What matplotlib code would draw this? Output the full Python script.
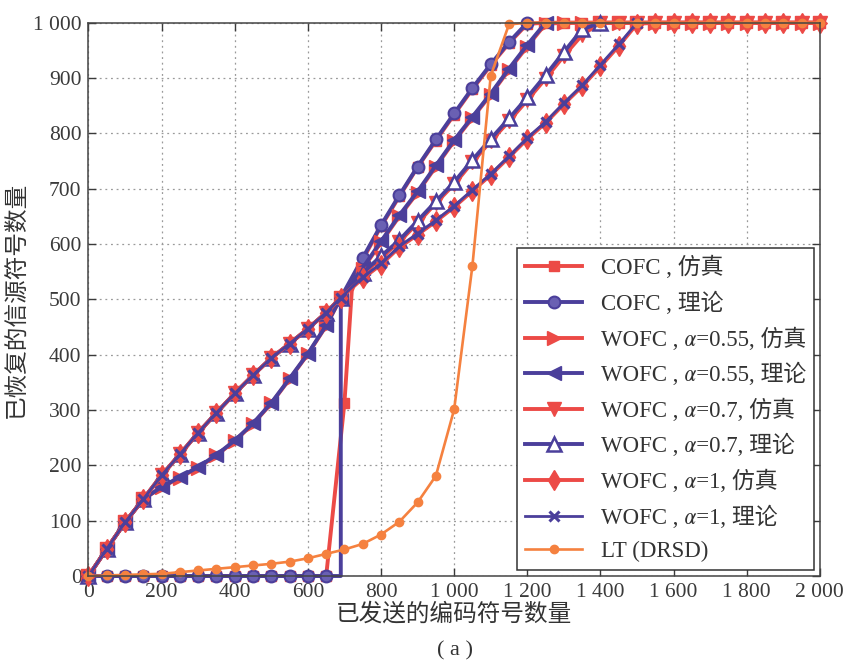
import matplotlib
matplotlib.use("Agg")
import matplotlib.pyplot as plt

plt.rcParams['font.family'] = ['Liberation Serif', 'Noto Sans CJK SC', 'STIXGeneral', 'DejaVu Sans']
plt.rcParams['axes.unicode_minus'] = False

# ---- data: number of sent coded symbols vs. recovered source symbols ----
n_cofc_sim = [0, 50, 100, 150, 200, 250, 300, 350, 400, 450, 500, 550, 600, 650,
              700, 720, 750, 800, 850, 900, 950, 1000, 1050, 1100, 1150, 1200,
              1250, 1300, 1350, 1400, 1450, 1500, 1550, 1600, 1650, 1700, 1750,
              1800, 1850, 1900, 1950, 2000]
k_cofc_sim = [0, 0, 0, 0, 0, 0, 0, 0, 0, 0, 0, 0, 0, 0,
              313, 515, 572, 632, 686, 739, 787, 834, 880, 923, 963, 998,
              1000, 1000, 1000, 1000, 1000, 1000, 1000, 1000, 1000, 1000, 1000,
              1000, 1000, 1000, 1000, 1000]

n_cofc_th = [0, 50, 100, 150, 200, 250, 300, 350, 400, 450, 500, 550, 600, 650,
             690, 690, 750, 800, 850, 900, 950, 1000, 1050, 1100, 1150, 1200]
k_cofc_th = [0, 0, 0, 0, 0, 0, 0, 0, 0, 0, 0, 0, 0, 0,
             0, 503, 575, 634, 688, 740, 789, 836, 882, 925, 965, 1000]

n_wofc = [0, 50, 100, 150, 200, 250, 300, 350, 400, 450, 500, 550, 600, 650,
          690, 750, 800, 850, 900, 950, 1000, 1050, 1100, 1150, 1200, 1250,
          1300, 1350, 1400, 1450, 1500, 1550, 1600, 1650, 1700, 1750, 1800,
          1850, 1900, 1950, 2000]

k_a055_sim = [0, 49, 97, 139, 160, 178, 196, 218, 244, 275, 312, 356, 401, 452,
              503, 555, 603, 650, 693, 740, 786, 828, 870, 915, 957, 998,
              1000, 1000, 1000, 1000, 1000, 1000, 1000, 1000, 1000, 1000, 1000,
              1000, 1000, 1000, 1000]
k_a055_th = [0, 49, 97, 139, 161, 179, 197, 219, 245, 276, 313, 357, 402, 453,
             503, 557, 605, 652, 695, 742, 788, 830, 872, 917, 960, 1000]

k_a07_sim = [0, 49, 97, 139, 182, 220, 259, 295, 330, 363, 394, 420, 447, 476,
             503, 545, 575, 604, 638, 674, 708, 748, 786, 822, 860, 899,
             940, 978, 1000, 1000, 1000, 1000, 1000, 1000, 1000, 1000, 1000,
             1000, 1000, 1000, 1000]
k_a07_th = [0, 49, 97, 139, 182, 220, 259, 295, 330, 363, 394, 420, 447, 476,
            503, 548, 578, 607, 642, 677, 712, 752, 790, 827, 865, 905,
            947, 988, 1000]

k_a1_sim = [0, 49, 97, 139, 182, 220, 259, 295, 330, 363, 394, 420, 447, 476,
            503, 538, 563, 594, 617, 641, 667, 696, 725, 757, 790, 819,
            853, 885, 921, 958, 998, 1000, 1000, 1000, 1000, 1000, 1000,
            1000, 1000, 1000, 1000]
k_a1_th = [0, 49, 97, 139, 182, 220, 259, 295, 330, 363, 394, 420, 447, 476,
           503, 540, 565, 596, 619, 643, 669, 698, 727, 759, 792, 821,
           855, 887, 924, 961, 1000]

n_lt = [0, 50, 100, 150, 200, 250, 300, 350, 400, 450, 500, 550, 600, 650,
        700, 750, 800, 850, 900, 950, 1000, 1050, 1100, 1150, 1200, 1250,
        1300, 1350, 1400, 1450, 1500, 1550, 1600, 1650, 1700, 1750, 1800,
        1850, 1900, 1950, 2000]
k_lt = [0, 1, 2, 3, 4, 7, 10, 13, 16, 19, 22, 26, 32, 40,
        48, 58, 75, 98, 133, 181, 301, 561, 904, 997, 1000, 1000,
        1000, 1000, 1000, 1000, 1000, 1000, 1000, 1000, 1000, 1000, 1000,
        1000, 1000, 1000, 1000]

x_ticks = [0, 200, 400, 600, 800, 1000, 1200, 1400, 1600, 1800, 2000]
x_tick_labels = ['0', '200', '400', '600', '800', '1 000', '1 200', '1 400',
                 '1 600', '1 800', '2 000']
y_ticks = [0, 100, 200, 300, 400, 500, 600, 700, 800, 900, 1000]
y_tick_labels = ['0', '100', '200', '300', '400', '500', '600', '700', '800',
                 '900', '1 000']

ALPHA = '\U0001D6FC'  # mathematical italic small alpha
labels = ['COFC , 仿真', 'COFC , 理论',
          f'WOFC , {ALPHA}=0.55, 仿真', f'WOFC , {ALPHA}=0.55, 理论',
          f'WOFC , {ALPHA}=0.7, 仿真', f'WOFC , {ALPHA}=0.7, 理论',
          f'WOFC , {ALPHA}=1, 仿真', f'WOFC , {ALPHA}=1, 理论',
          'LT (DRSD)']

RED = '#ec4a46'
BLUE = '#4b3f9b'
ORANGE = '#f5813f'

fig = plt.figure(figsize=(8.45, 6.69), dpi=100)
ax = fig.add_axes([0.1047, 0.139, 0.8655, 0.827])

common = dict(clip_on=False)

ax.plot(n_cofc_sim, k_cofc_sim, color=RED, lw=2.8, marker='s', ms=7,
        markevery=[i for i in range(len(n_cofc_sim)) if n_cofc_sim[i] % 50 == 0],
        label=labels[0], **common)
ax.plot(n_cofc_th, k_cofc_th, color=BLUE, lw=2.8, marker='o', ms=8.5,
        mfc='#6a60b3', mec=BLUE, mew=1.5,
        markevery=[i for i in range(len(n_cofc_th)) if i != 14],
        label=labels[1], **common)
ax.plot(n_wofc, k_a055_sim, color=RED, lw=2.8, marker='>', ms=10,
        label=labels[2], **common)
ax.plot(n_wofc[:len(k_a055_th)], k_a055_th, color=BLUE, lw=2.8, marker='<', ms=10,
        label=labels[3], **common)
ax.plot(n_wofc, k_a07_sim, color=RED, lw=2.8, marker='v', ms=10,
        label=labels[4], **common)
ax.plot(n_wofc[:len(k_a07_th)], k_a07_th, color=BLUE, lw=2.8, marker='^', ms=10,
        mfc='white', mec=BLUE, mew=1.8, label=labels[5], **common)
ax.plot(n_wofc, k_a1_sim, color=RED, lw=2.8, marker='d', ms=10,
        label=labels[6], **common)
ax.plot(n_wofc[:len(k_a1_th)], k_a1_th, color=BLUE, lw=2.0, marker='x', ms=7.5,
        mew=2.2, label=labels[7], **common)
ax.plot(n_lt, k_lt, color=ORANGE, lw=1.9, marker='o', ms=6,
        label=labels[8], **common)

ax.set_xlim(0, 2000)
ax.set_ylim(0, 1000)
ax.set_xticks(x_ticks)
ax.set_xticklabels(x_tick_labels)
ax.set_yticks(y_ticks)
ax.set_yticklabels(y_tick_labels)
ax.tick_params(direction='in', length=6, width=1, top=True, right=True,
               labelsize=15.5, colors='#3a3a3a', pad=5)
for sp in ax.spines.values():
    sp.set_color('#444444')
    sp.set_linewidth(1.1)

ax.grid(True, linestyle=(0, (1.5, 3)), color='#9a9a9a', linewidth=0.9)
ax.set_axisbelow(True)

ax.set_xlabel('已发送的编码符号数量', fontsize=17, color='#333333', labelpad=1)
ax.set_ylabel('已恢复的信源符号数量', fontsize=17, color='#333333', labelpad=4)
fig.text(0.538, 0.027, '( a )', ha='center', va='center', fontsize=16,
         color='#333333')

leg = ax.legend(loc='lower right', fontsize=16.5, frameon=True, fancybox=False,
                edgecolor='#333333', framealpha=1, handlelength=2.5,
                labelspacing=0.54, borderaxespad=0.25, handletextpad=0.8,
                borderpad=0.35)
leg.get_frame().set_linewidth(1.1)
for t in leg.get_texts():
    t.set_color('#333333')

fig.savefig('out.png', dpi=100, facecolor='white')
